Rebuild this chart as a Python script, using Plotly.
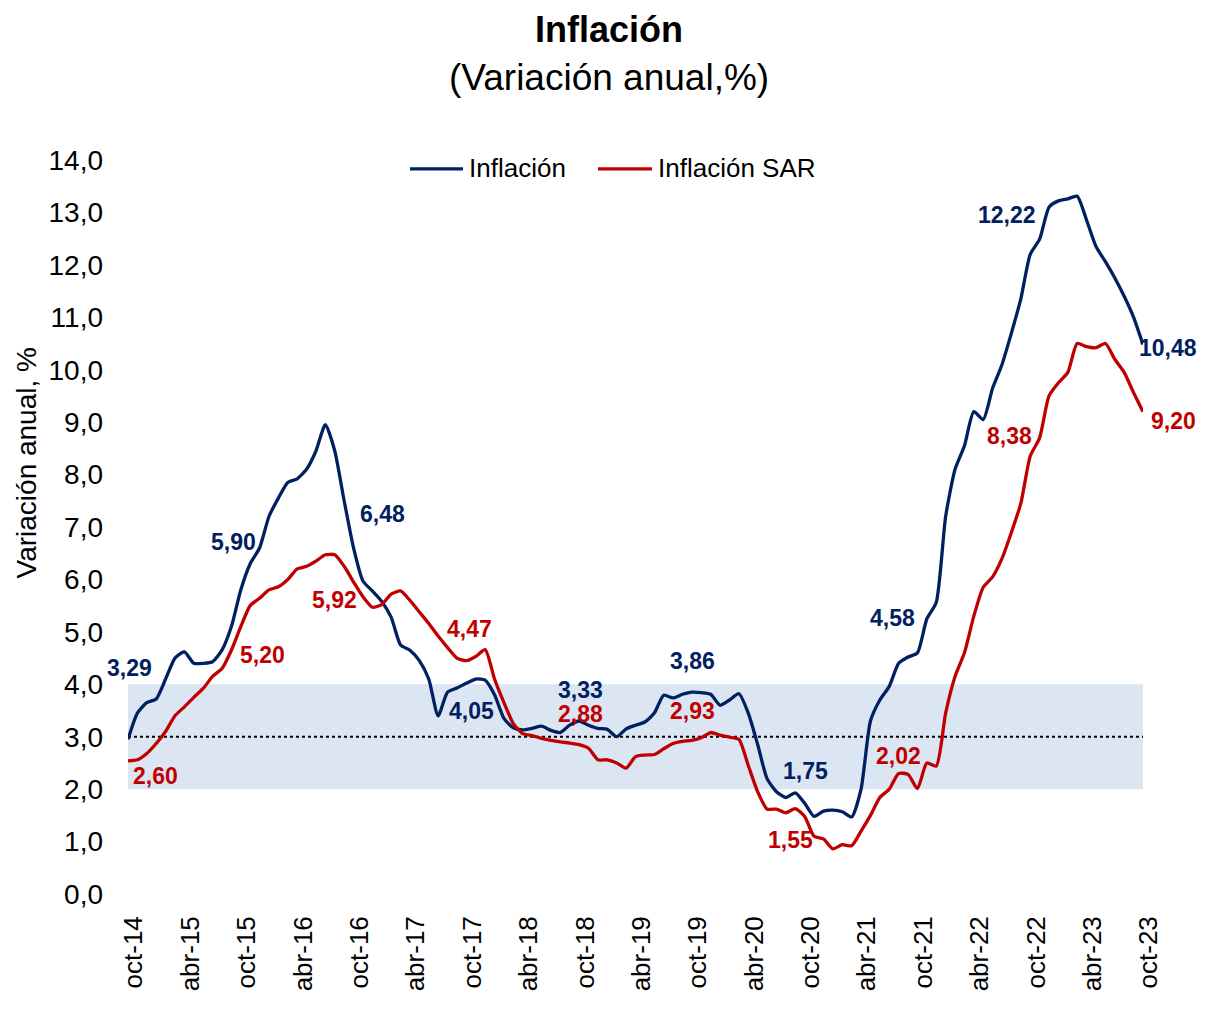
import plotly.graph_objects as go

MESES = ["ene", "feb", "mar", "abr", "may", "jun", "jul", "ago", "sep", "oct", "nov", "dic"]
months = []
m, y = 9, 14
for _ in range(109):
    months.append(f"{MESES[m]}-{y:02d}")
    m += 1
    if m == 12:
        m, y = 0, y + 1

inflacion = [
    2.95, 3.45, 3.65, 3.72, 4.10, 4.50, 4.62, 4.40, 4.40, 4.43,
    4.65, 5.10, 5.80, 6.30, 6.60, 7.20, 7.55, 7.85, 7.92, 8.10,
    8.45, 8.95, 8.45, 7.50, 6.60, 5.97, 5.78, 5.58, 5.28, 4.75,
    4.65, 4.45, 4.10, 3.40, 3.85, 3.93, 4.02, 4.10, 4.08, 3.80,
    3.35, 3.17, 3.13, 3.16, 3.20, 3.12, 3.08, 3.22, 3.30, 3.22,
    3.16, 3.14, 3.00, 3.15, 3.22, 3.28, 3.45, 3.79, 3.74, 3.81,
    3.85, 3.84, 3.81, 3.60, 3.70, 3.82, 3.45, 2.85, 2.20, 1.95,
    1.84, 1.93, 1.73, 1.48, 1.58, 1.60, 1.57, 1.47, 2.00, 3.30,
    3.70, 3.96, 4.40, 4.52, 4.60, 5.25, 5.56, 7.20, 8.10, 8.55,
    9.20, 9.05, 9.65, 10.10, 10.70, 11.35, 12.20, 12.49, 13.10, 13.22,
    13.26, 13.31, 12.85, 12.35, 12.06, 11.75, 11.40, 11.00, 10.48,
]

inflacion_sar = [
    2.54, 2.56, 2.68, 2.87, 3.10, 3.40, 3.57, 3.75, 3.92, 4.15,
    4.30, 4.65, 5.10, 5.50, 5.64, 5.80, 5.86, 6.00, 6.20, 6.25,
    6.35, 6.47, 6.47, 6.25, 5.95, 5.67, 5.47, 5.52, 5.72, 5.78,
    5.60, 5.38, 5.16, 4.92, 4.70, 4.50, 4.45, 4.53, 4.66, 4.10,
    3.65, 3.25, 3.06, 3.02, 2.97, 2.93, 2.90, 2.88, 2.85, 2.78,
    2.56, 2.56, 2.50, 2.40, 2.62, 2.65, 2.66, 2.77, 2.87, 2.91,
    2.93, 2.98, 3.08, 3.03, 2.99, 2.95, 2.45, 1.95, 1.62, 1.62,
    1.55, 1.63, 1.48, 1.10, 1.05, 0.86, 0.94, 0.92, 1.20, 1.50,
    1.84, 2.00, 2.30, 2.28, 2.01, 2.50, 2.44, 3.45, 4.15, 4.60,
    5.30, 5.85, 6.05, 6.40, 6.90, 7.45, 8.35, 8.70, 9.50, 9.75,
    9.95, 10.50, 10.44, 10.42, 10.50, 10.20, 9.95, 9.56, 9.20,
]

# label texts and anchor points (month index, value)
blue_labels = ["3,29", "5,90", "6,48", "4,05", "3,33", "3,86", "1,75", "4,58", "12,22", "10,48"]
blue_lx = [0.2, 11.2, 27.1, 36.5, 48.2, 60.1, 72.1, 81.3, 93.5, 110.7]
blue_ly = [4.32, 6.72, 7.25, 3.49, 3.90, 4.45, 2.35, 5.26, 12.96, 10.42]
red_labels = ["2,60", "5,20", "5,92", "4,47", "2,88", "2,93", "1,55", "2,02", "8,38", "9,20"]
red_lx = [2.9, 14.3, 22.0, 36.3, 48.2, 60.1, 70.5, 82.0, 93.8, 111.2]
red_ly = [2.25, 4.56, 5.60, 5.05, 3.44, 3.49, 1.03, 2.63, 8.73, 9.03]

series_names = ["Inflación", "Inflación SAR"]
Y_MAX = 14

BLUE = "#002060"
RED = "#c00000"
FONT = "Liberation Sans, Arial, sans-serif"

# page offset (browser body margin) and plot geometry in screen pixels
OFF = 8
PL, PR, PT, PB = 128, 1143, 160, 905
W, H = 1208 - 2 * OFF, 1011 - 2 * OFF


def px(sx):
    return (sx - PL) / (PR - PL)


def py(sy):
    return (PB - sy) / (PB - PT)


x = list(range(len(months)))
X_MAX = len(months) - 1
fig = go.Figure()
fig.add_trace(go.Scatter(x=x, y=inflacion, mode="lines", name=series_names[0], showlegend=False,
                         line=dict(color=BLUE, width=3.3, shape="spline", smoothing=0.6)))
fig.add_trace(go.Scatter(x=x, y=inflacion_sar, mode="lines", name=series_names[1], showlegend=False,
                         line=dict(color=RED, width=3.3, shape="spline", smoothing=0.6)))

fig.add_shape(type="rect", xref="x", yref="y", x0=0, x1=X_MAX, y0=2, y1=4,
              fillcolor="#dce6f2", line=dict(width=0), layer="below")
fig.add_shape(type="line", xref="x", yref="y", x0=0, x1=X_MAX, y0=3, y1=3,
              line=dict(color="black", width=2, dash="dot"), layer="below")

# value labels (placed in paper units so that labels past the last month still show)
for labels, lxs, lys, color in [(blue_labels, blue_lx, blue_ly, BLUE),
                                (red_labels, red_lx, red_ly, RED)]:
    for t, lx, ly in zip(labels, lxs, lys):
        fig.add_annotation(x=lx / X_MAX, y=ly / Y_MAX, xref="paper", yref="paper",
                           xanchor="center", yanchor="middle",
                           text=f"<b>{t}</b>", showarrow=False,
                           font=dict(family=FONT, size=23, color=color))

# legend (drawn as line samples + texts)
for name, color, x0, x1 in [(series_names[0], BLUE, 410, 463), (series_names[1], RED, 598, 652)]:
    fig.add_shape(type="line", xref="paper", yref="paper", x0=px(x0), x1=px(x1),
                  y0=py(169), y1=py(169), line=dict(color=color, width=3.3))
    fig.add_annotation(x=px(x1 + 4), y=py(168), xref="paper", yref="paper", text=name,
                       showarrow=False, xanchor="left", yanchor="middle",
                       font=dict(family=FONT, size=26, color="black"))

fig.add_annotation(x=px(609), y=py(28), xref="paper", yref="paper", text="<b>Inflación</b>",
                   showarrow=False, xanchor="center", yanchor="middle", borderpad=0,
                   font=dict(family=FONT, size=36, color="black"))
fig.add_annotation(x=px(609), y=py(76), xref="paper", yref="paper", text="(Variación anual,%)",
                   showarrow=False, xanchor="center", yanchor="middle", borderpad=0,
                   font=dict(family=FONT, size=37, color="black"))
fig.add_annotation(x=px(26), y=py(468), xref="paper", yref="paper", text="Variación anual, %",
                   showarrow=False, textangle=-90, xanchor="center", yanchor="middle",
                   font=dict(family=FONT, size=28, color="black"))

tickvals = list(range(0, len(months), 6))
fig.update_layout(
    width=W, height=H,
    paper_bgcolor="white", plot_bgcolor="white",
    separators=",.",
    margin=dict(l=PL - OFF, r=W - (PR - OFF), t=PT - OFF, b=H - (PB - OFF)),
    font=dict(family=FONT, size=20, color="black"),
    showlegend=False,
    xaxis=dict(range=[0, X_MAX], tickvals=tickvals,
               ticktext=[months[i] for i in tickvals], tickangle=-90,
               showgrid=False, zeroline=False, showline=False, ticks="",
               ticklabelstandoff=16, ticklabelshift=6,
               tickfont=dict(family=FONT, size=26, color="black")),
    yaxis=dict(range=[0, Y_MAX], dtick=1, tickformat=".1f", showgrid=False, zeroline=False,
               showline=False, ticks="", ticklabelstandoff=24,
               tickfont=dict(family=FONT, size=28, color="black")),
)

fig.write_html("out.html")
